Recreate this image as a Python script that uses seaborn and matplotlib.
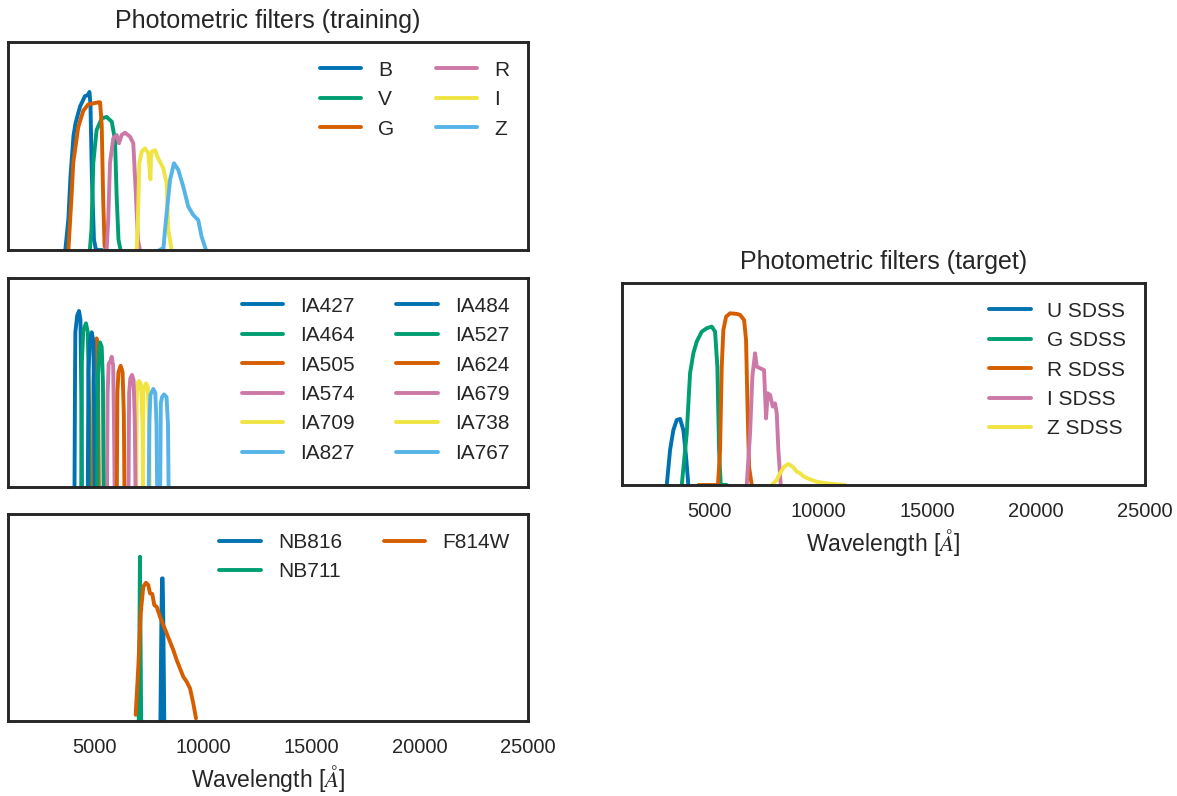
import pandas as pd
import matplotlib
matplotlib.use("Agg")
import matplotlib.pyplot as plt
import seaborn as sns

# ---- broad band filters (training) ----
b_wave = [3645, 3787, 3881, 4023, 4117, 4325, 4551, 4683, 4759, 4806, 4872, 4967, 5061, 5344]
b_trans = [0.0, 0.15, 0.35, 0.55, 0.61, 0.69, 0.74, 0.745, 0.76, 0.70, 0.35, 0.05, 0.0, 0.0]
v_wave = [4778, 4853, 4938, 5089, 5325, 5552, 5788, 5939, 6014, 6099, 6194]
v_trans = [0.0, 0.10, 0.42, 0.577, 0.633, 0.64, 0.617, 0.53, 0.26, 0.05, 0.0]
g_wave = [3787, 3928, 4013, 4240, 4476, 4702, 4938, 5155, 5250, 5325, 5391, 5457, 5533]
g_trans = [0.0, 0.25, 0.42, 0.59, 0.67, 0.70, 0.705, 0.71, 0.71, 0.60, 0.25, 0.02, 0.0]
r_wave = [5552, 5627, 5708, 5859, 6016, 6123, 6246, 6399, 6631, 6783, 6907, 6996, 7090]
r_trans = [0.0, 0.15, 0.42, 0.537, 0.553, 0.513, 0.553, 0.564, 0.545, 0.513, 0.256, 0.05, 0.0]
i_wave = [6939, 6996, 7059, 7170, 7322, 7475, 7572, 7600, 7632, 7784, 7937, 8168, 8322, 8398, 8553]
i_trans = [0.0, 0.15, 0.417, 0.473, 0.489, 0.465, 0.34, 0.44, 0.473, 0.48, 0.44, 0.393, 0.32, 0.096, 0.0]
z_wave = [7987, 8176, 8245, 8364, 8478, 8661, 8861, 9091, 9322, 9554, 9780, 9936, 10139]
z_trans = [0.0, 0.01, 0.096, 0.22, 0.337, 0.417, 0.385, 0.304, 0.208, 0.168, 0.144, 0.064, 0.0]

# ---- intermediate band filters (training) ----
ia427_wave = [4070, 4092, 4108, 4193, 4278, 4344, 4391, 4410]
ia427_trans = [0.0, 0.5, 0.74, 0.82, 0.842, 0.80, 0.40, 0.0]
ia464_wave = [4381, 4410, 4476, 4599, 4683, 4740, 4768]
ia464_trans = [0.0, 0.60, 0.75, 0.783, 0.74, 0.40, 0.0]
ia484_wave = [4683, 4712, 4778, 4863, 4938, 4981, 5004]
ia484_trans = [0.0, 0.55, 0.70, 0.74, 0.70, 0.35, 0.0]
ia505_wave = [4919, 4943, 5014, 5092, 5146, 5170, 5193]
ia505_trans = [0.0, 0.50, 0.68, 0.711, 0.66, 0.30, 0.0]
ia527_wave = [5118, 5141, 5203, 5246, 5325, 5382, 5410]
ia527_trans = [0.0, 0.50, 0.66, 0.692, 0.67, 0.50, 0.0]
ia574_wave = [5571, 5599, 5646, 5722, 5785, 5854, 5892, 5920]
ia574_trans = [0.0, 0.45, 0.59, 0.60, 0.623, 0.58, 0.30, 0.0]
ia624_wave = [6024, 6047, 6099, 6199, 6288, 6345, 6373]
ia624_trans = [0.0, 0.45, 0.55, 0.58, 0.55, 0.35, 0.0]
ia679_wave = [6562, 6590, 6647, 6722, 6798, 6854, 6883]
ia679_trans = [0.0, 0.45, 0.52, 0.536, 0.51, 0.30, 0.0]
ia709_wave = [6920, 6944, 6996, 7059, 7137, 7208, 7232]
ia709_trans = [0.0, 0.45, 0.50, 0.507, 0.49, 0.30, 0.0]
ia738_wave = [7222, 7246, 7307, 7369, 7449, 7515, 7538]
ia738_trans = [0.0, 0.45, 0.48, 0.496, 0.48, 0.30, 0.0]
ia767_wave = [7496, 7524, 7572, 7706, 7798, 7855, 7883]
ia767_trans = [0.0, 0.30, 0.44, 0.469, 0.45, 0.30, 0.0]
ia827_wave = [8025, 8053, 8109, 8199, 8317, 8383, 8411]
ia827_trans = [0.0, 0.40, 0.43, 0.443, 0.43, 0.30, 0.0]

# ---- narrow band + HST (training) ----
nb816_wave = [8034, 8081, 8110, 8138, 8166, 8213]
nb816_trans = [0.0, 0.50, 0.689, 0.689, 0.50, 0.0]
nb711_wave = [7034, 7071, 7090, 7109, 7147]
nb711_trans = [0.0, 0.50, 0.794, 0.50, 0.0]
f814w_wave = [6892, 7013, 7124, 7244, 7369, 7474, 7554, 7659, 7752, 7862, 8015, 8167,
              8324, 8477, 8629, 8785, 8938, 9090, 9247, 9400, 9552, 9676]
f814w_trans = [0.03, 0.26, 0.52, 0.649, 0.668, 0.657, 0.617, 0.614, 0.56, 0.552, 0.504, 0.464,
               0.424, 0.383, 0.343, 0.295, 0.254, 0.214, 0.19, 0.158, 0.085, 0.013]

# ---- SDSS (target) ----
u_sdss_wave = [3052, 3203, 3354, 3510, 3662, 3813, 3938, 4042]
u_sdss_trans = [0.0, 0.173, 0.272, 0.322, 0.327, 0.272, 0.14, 0.0]
g_sdss_wave = [3740, 3969, 4120, 4272, 4427, 4657, 4887, 5116, 5268, 5373, 5452, 5529, 5804]
g_sdss_trans = [0.0, 0.256, 0.553, 0.652, 0.71, 0.759, 0.776, 0.784, 0.759, 0.586, 0.173, 0.0, 0.0]
r_sdss_wave = [4502, 5402, 5497, 5574, 5649, 5773, 5956, 6264, 6414, 6599, 6690, 6750, 6828, 6951]
r_sdss_trans = [0.0, 0.0, 0.173, 0.586, 0.767, 0.833, 0.85, 0.847, 0.842, 0.817, 0.718, 0.421, 0.09, 0.0]
i_sdss_wave = [6722, 6874, 6979, 7103, 7181, 7333, 7516, 7608, 7686, 7791, 7915, 8021, 8099, 8173, 8282]
i_sdss_trans = [0.0, 0.256, 0.536, 0.652, 0.586, 0.578, 0.569, 0.33, 0.454, 0.446, 0.388, 0.404, 0.355, 0.173, 0.0]
z_sdss_wave = [7869, 8099, 8251, 8434, 8632, 8834, 9017, 9168, 9352, 9627, 9935, 10393, 11233]
z_sdss_trans = [0.0, 0.025, 0.058, 0.09, 0.104, 0.09, 0.066, 0.058, 0.041, 0.028, 0.016, 0.008, 0.0]

broad = [("B", b_wave, b_trans), ("V", v_wave, v_trans), ("G", g_wave, g_trans),
         ("R", r_wave, r_trans), ("I", i_wave, i_trans), ("Z", z_wave, z_trans)]
medium = [("IA427", ia427_wave, ia427_trans), ("IA464", ia464_wave, ia464_trans),
          ("IA505", ia505_wave, ia505_trans), ("IA574", ia574_wave, ia574_trans),
          ("IA709", ia709_wave, ia709_trans), ("IA827", ia827_wave, ia827_trans),
          ("IA484", ia484_wave, ia484_trans), ("IA527", ia527_wave, ia527_trans),
          ("IA624", ia624_wave, ia624_trans), ("IA679", ia679_wave, ia679_trans),
          ("IA738", ia738_wave, ia738_trans), ("IA767", ia767_wave, ia767_trans)]
narrow = [("NB816", nb816_wave, nb816_trans), ("NB711", nb711_wave, nb711_trans),
          ("F814W", f814w_wave, f814w_trans)]
sdss = [("U SDSS", u_sdss_wave, u_sdss_trans), ("G SDSS", g_sdss_wave, g_sdss_trans),
        ("R SDSS", r_sdss_wave, r_sdss_trans), ("I SDSS", i_sdss_wave, i_sdss_trans),
        ("Z SDSS", z_sdss_wave, z_sdss_trans)]

sns.set_theme(style="white", context="talk")
plt.rcParams["font.family"] = ["Liberation Sans", "DejaVu Sans"]
plt.rcParams["mathtext.fontset"] = "cm"
plt.rcParams["axes.edgecolor"] = "#262626"

# the old seaborn "colorblind" 6-colour cycle
colors = ["#0072B2", "#009E73", "#D55E00", "#CC79A7", "#F0E442", "#56B4E9"]
XLABEL = r"Wavelength [$\AA$]"


def to_frame(filters):
    rows = []
    for name, wave, trans in filters:
        for w, t in zip(wave, trans):
            rows.append({"wavelength": w, "transmission": t, "filter": name})
    return pd.DataFrame(rows)


def plot_filters(ax, filters, ncol):
    df = to_frame(filters)
    names = [f[0] for f in filters]
    palette = [colors[i % 6] for i in range(len(names))]
    sns.lineplot(data=df, x="wavelength", y="transmission", hue="filter",
                 hue_order=names, palette=palette, estimator=None, sort=False,
                 lw=2.8, ax=ax)
    ax.set_xlim(1000, 25000)
    ax.set_ylim(0, 1.0)
    ax.set_yticks([])
    ax.set_ylabel("")
    ax.set_xlabel("")
    ax.set_xticks([5000, 10000, 15000, 20000, 25000])
    ax.tick_params(axis="x", labelsize=14.5)
    for spine in ax.spines.values():
        spine.set_linewidth(2.1)
    ax.legend(ncol=ncol, loc="upper right", fontsize=15, frameon=False,
              handlelength=2.0, columnspacing=2.0)


fig = plt.figure(figsize=(11.77, 7.96), dpi=100)
ax1 = fig.add_axes([0.0068, 0.6859, 0.4418, 0.2613])
ax2 = fig.add_axes([0.0068, 0.3882, 0.4418, 0.2626])
ax3 = fig.add_axes([0.0068, 0.0942, 0.4418, 0.2600])
ax4 = fig.add_axes([0.5285, 0.3907, 0.4444, 0.2538])

plot_filters(ax1, broad, 2)
plot_filters(ax2, medium, 2)
plot_filters(ax3, narrow, 2)
plot_filters(ax4, sdss, 1)

ax1.set_xticklabels([])
ax2.set_xticklabels([])
ax1.set_title("Photometric filters (training)", fontsize=18, pad=10)
ax4.set_title("Photometric filters (target)", fontsize=18, pad=10)
ax3.set_xlabel(XLABEL, fontsize=16.5, labelpad=4)
ax4.set_xlabel(XLABEL, fontsize=16.5, labelpad=4)

fig.savefig("out.png", dpi=100)
